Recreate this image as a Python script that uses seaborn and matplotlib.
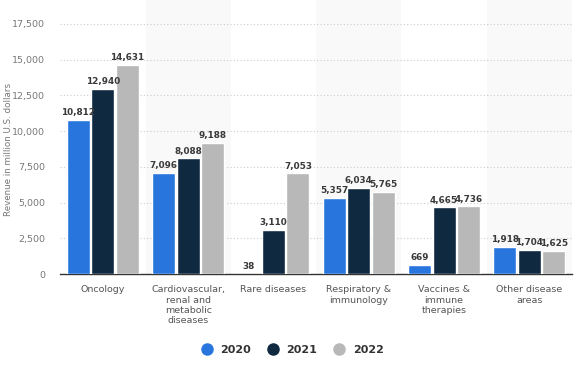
import pandas as pd
import matplotlib.pyplot as plt
import seaborn as sns
from matplotlib.lines import Line2D

categories = ["Oncology", "Cardiovascular,\nrenal and\nmetabolic\ndiseases", "Rare diseases",
              "Respiratory &\nimmunology", "Vaccines &\nimmune\ntherapies", "Other disease\nareas"]
years = ["2020", "2021", "2022"]
rev_2020 = [10812, 7096, 38, 5357, 669, 1918]
rev_2021 = [12940, 8088, 3110, 6034, 4665, 1704]
rev_2022 = [14631, 9188, 7053, 5765, 4736, 1625]
colors = ["#2876dd", "#0f2a40", "#b8b8b8"]

df = pd.DataFrame({
    "category": categories * 3,
    "year": [y for y in years for _ in categories],
    "revenue": rev_2020 + rev_2021 + rev_2022,
})

sns.set_style("white")
plt.rcParams["font.family"] = ["DejaVu Sans"]

fig = plt.figure(figsize=(5.79, 3.73), dpi=100)
ax = fig.add_axes([0.104, 0.265, 0.884, 0.671])

# alternating background bands
for i in range(1, len(categories), 2):
    ax.axvspan(i - 0.5, i + 0.5, ymin=0, ymax=1.1, color="#f9f9f9", zorder=0, clip_on=False, lw=0)

sns.barplot(data=df, x="category", y="revenue", hue="year", palette=colors, saturation=1,
            width=0.86, gap=0.06, ax=ax, legend=False, zorder=3)

for cont in ax.containers:
    ax.bar_label(cont, labels=[f"{v:,.0f}" for v in cont.datavalues], padding=2,
                 fontsize=6.4, fontweight="bold", color="#3a3a3a")

ax.set_ylim(0, 17500)
ax.set_xlim(-0.5, len(categories) - 0.5)
ax.set_yticks(range(0, 17501, 2500))
ax.set_yticklabels([f"{v:,}" for v in range(0, 17501, 2500)])
ax.yaxis.grid(True, linestyle=(0, (1, 2)), color="#cccccc", lw=0.8, zorder=1)
ax.set_axisbelow(True)
ax.tick_params(axis="y", labelsize=6.8, colors="#777777", length=0, pad=11)
ax.tick_params(axis="x", labelsize=6.8, colors="#555555", length=0, pad=8)
ax.set_xlabel("")
ax.set_ylabel("Revenue in million U.S. dollars", fontsize=6.3, color="#777777")
ax.yaxis.set_label_coords(-0.093, 0.5)
for s in ["top", "right", "left"]:
    ax.spines[s].set_visible(False)
ax.spines["bottom"].set_color("#333333")
ax.spines["bottom"].set_linewidth(1)

handles = [Line2D([0], [0], marker="o", ls="", markersize=8, markerfacecolor=c,
                  markeredgecolor=c) for c in colors]
leg = fig.legend(handles, years, loc="center", bbox_to_anchor=(0.5, 0.062), ncol=3,
                 frameon=False, handletextpad=0.2, columnspacing=1.0, fontsize=8)
for t in leg.get_texts():
    t.set_fontweight("bold")
    t.set_color("#333333")

fig.savefig("out.png", dpi=100)
